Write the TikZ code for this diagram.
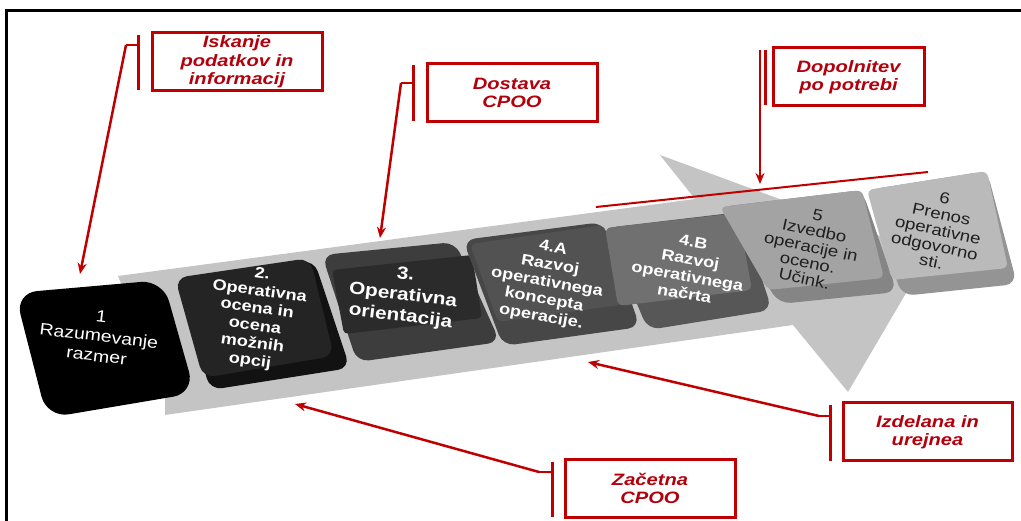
\documentclass[tikz,border=0pt]{standalone}
\usepackage{fontspec}
\setmainfont{Liberation Sans}
\newfontfamily\keyfont{Liberation Sans}[FakeStretch=1.18]
\newfontfamily\notefont{Liberation Sans}[FakeStretch=1.22]
\usetikzlibrary{arrows.meta}
\definecolor{cred}{RGB}{192,0,0}
\definecolor{ctext}{RGB}{178,0,12}
\definecolor{band}{RGB}{196,196,196}
\begin{document}
\begin{tikzpicture}[x=1pt,y=-1pt,
  callout/.style={draw=cred, line width=3pt, text=ctext, align=center, inner sep=0pt,
    font=\notefont\bfseries\itshape\fontsize{16.5}{18.5}\selectfont},
  bar/.style={draw=cred, line width=3pt},
  leader/.style={draw=cred, line width=2.5pt, -{Stealth[length=11pt,width=9pt]}},
  keytext/.style={align=center, inner sep=0pt, font=\keyfont\bfseries\fontsize{15.4}{17.5}\selectfont, text=white},
  darktext/.style={align=center, inner sep=0pt, font=\keyfont\fontsize{15.8}{16.3}\selectfont, text=black!88},
  keycap/.style={rounded corners=12pt}]
\useasboundingbox (0,0) rectangle (1021,521);
\fill[white] (0,0) rectangle (1021,521);
% outer frame
\draw[line width=3pt] (6,530) -- (6,11) -- (1030,11);

% large process arrow: shaft and head
\fill[band] (118,276) -- (695,199) -- (660,155) -- (929,254) -- (848,392) -- (793,325)
  -- (165,415) -- (165,390) -- cycle;

% step 1
\fill[black, rounded corners=22pt] (15,293) -- (163,280) -- (195,393) -- (47,418) -- cycle;
% step 2
\fill[black!93, keycap] (180,282) -- (314,260) -- (350,368) -- (210,390) -- cycle;
\fill[black!86, keycap] (175,278) -- (310,258) -- (334,356) -- (203,378) -- cycle;
% step 3
\fill[black!76, keycap] (322,255) -- (455,242) -- (500,342) -- (357,362) -- cycle;
\fill[black!83, rounded corners=4pt] (332,270) -- (472,255) -- (482,318) -- (344,334) -- cycle;
% step 4.A
\fill[black!72, keycap] (463,240) -- (603,222) -- (640,327) -- (503,346) -- cycle;
\fill[black!68, rounded corners=6pt] (470,244) -- (604,225) -- (626,304) -- (498,322) -- cycle;
% step 4.B
\fill[black!66, keycap] (605,228) -- (740,212) -- (772,310) -- (648,330) -- cycle;
\fill[black!56, rounded corners=6pt] (605,228) -- (738,213) -- (752,290) -- (618,306) -- cycle;
% step 5
\fill[black!48, keycap] (720,207) -- (862,190) -- (897,292) -- (779,304) -- cycle;
\fill[black!36, rounded corners=6pt] (720,207) -- (862,190) -- (884,278) -- (768,290) -- cycle;
% step 6
\fill[black!42, keycap] (867,190) -- (987,171) -- (1017,284) -- (902,296) -- cycle;
\fill[black!27, rounded corners=6pt] (867,190) -- (987,171) -- (1008,268) -- (892,280) -- cycle;

% step labels
\node[keytext, font=\keyfont\fontsize{16.5}{20}\selectfont, rotate=-7] (t1) at (99,336) {1\\Razumevanje\\razmer};
\node[keytext, rotate=-8] (t2) at (256,318) {2.\\Operativna\\ocena in\\ocena\\možnih\\opcij};
\node[keytext, font=\keyfont\bfseries\fontsize{17.6}{21}\selectfont, rotate=-7] (t3) at (403,296) {3.\\Operativna\\orientacija};
\node[keytext, rotate=-10] (t4a) at (547,283) {4.A\\Razvoj\\operativnega\\koncepta\\operacije.};
\node[keytext, rotate=-10] (t4b) at (689,268) {4.B\\Razvoj\\operativnega\\načrta};
\node[darktext, rotate=-12] (t5) at (811,247) {5\\Izvedbo\\operacije in\\oceno.\\Učink.};
\node[darktext, rotate=-12] (t6) at (938,230) {6\\Prenos\\operativne\\odgovorno\\sti.};

% callouts
\node[callout, minimum width=170pt, minimum height=58pt] (c1) at (237,62) {Iskanje\\podatkov in\\informacij};
\node[callout, minimum width=170pt, minimum height=58pt] (c2) at (512,93) {Dostava\\CPOO};
\node[callout, minimum width=151pt, minimum height=58pt] (c3) at (848.5,77) {Dopolnitev\\po potrebi};
\node[callout, minimum width=169pt, minimum height=58pt] (c4) at (927.5,432) {Izdelana in\\urejnea};
\node[callout, minimum width=170pt, minimum height=57pt] (c5) at (650,488.5) {Začetna\\CPOO};

% brackets beside the callouts
\coordinate (b1t) at (138,35); \coordinate (b1b) at (138,90);
\coordinate (s1) at (126,45);  \coordinate (s1b) at (138,45);
\coordinate (b2t) at (413,65); \coordinate (b2b) at (413,121);
\coordinate (s2) at (401,83);  \coordinate (s2b) at (413,83);
\coordinate (b3t) at (765,50); \coordinate (b3b) at (765,105);
\coordinate (s3) at (760,50);
\coordinate (b4t) at (830,405); \coordinate (b4b) at (830,461);
\coordinate (s4) at (819,416);  \coordinate (s4b) at (830,416);
\coordinate (b5t) at (552,462); \coordinate (b5b) at (552,517);
\coordinate (s5) at (539,472);  \coordinate (s5b) at (552,472);

\draw[bar] (b1t) -- (b1b);
\draw[bar] (b2t) -- (b2b);
\draw[bar] (b3t) -- (b3b);
\draw[bar] (b4t) -- (b4b);
\draw[bar] (b5t) -- (b5b);
\draw[cred, line width=2.5pt] (s1) -- (s1b);
\draw[cred, line width=2.5pt] (s2) -- (s2b);
\draw[cred, line width=2.5pt] (s4) -- (s4b);
\draw[cred, line width=2.5pt] (s5) -- (s5b);

% targets of the leaders
\coordinate (p1) at (80,274);
\coordinate (p2) at (380,238);
\coordinate (p3) at (760,184);
\coordinate (p4) at (588,362);
\coordinate (p5) at (295,404);
\draw[leader] (s1) -- (p1);
\draw[leader] (s2) -- (p2);
\draw[leader] (s3) -- (p3);
\draw[leader] (s4) -- (p4);
\draw[leader] (s5) -- (p5);

% revision line across the later steps
\coordinate (r1) at (596,207);
\coordinate (r2) at (928,172);
\draw[cred, line width=2pt] (r1) -- (r2);
\end{tikzpicture}
\end{document}
